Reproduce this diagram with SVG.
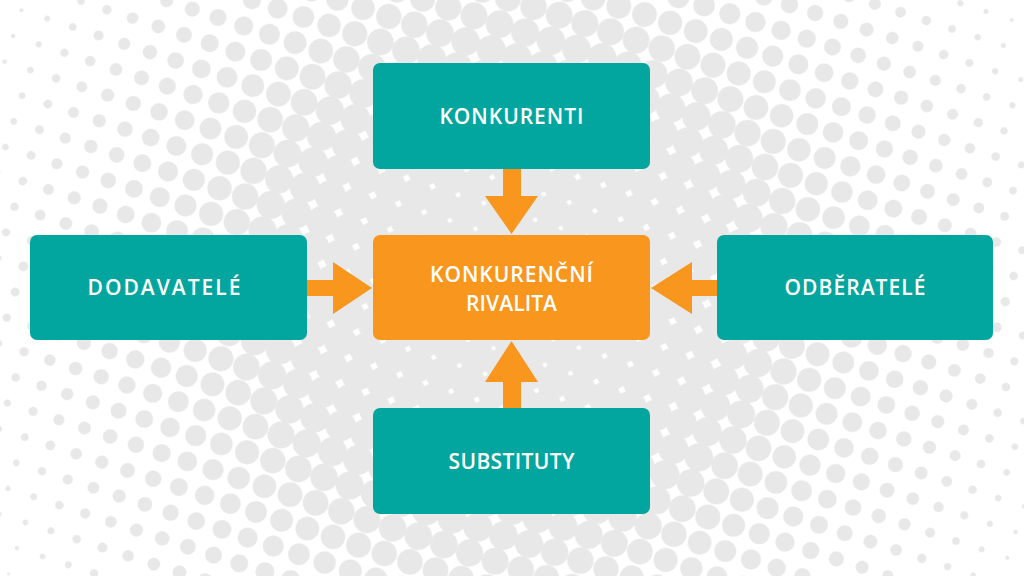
<svg xmlns="http://www.w3.org/2000/svg" width="1024" height="576" viewBox="0 0 1024 576">
<style>
.box{fill:#03a69e}
.center{fill:#f8961d}
.arrow{fill:#f8961d}
.lbl{font-family:"Open Sans","Noto Sans","Liberation Sans",sans-serif;font-weight:600;font-size:21px;fill:#ffffff;text-anchor:middle}
</style>
<defs>
<radialGradient id="cellG" cx="0.5" cy="0.5" r="0.7071">
<stop offset="0" stop-color="#000000"/>
<stop offset="1" stop-color="#ffffff"/>
</radialGradient>
<pattern id="dots" width="27" height="27" patternUnits="userSpaceOnUse" patternTransform="rotate(18 512 288)">
<rect width="27" height="27" fill="url(#cellG)"/>
</pattern>
<radialGradient id="glob" gradientUnits="userSpaceOnUse" cx="512" cy="288" r="620">
<stop offset="0" stop-color="#161616"/>
<stop offset="0.16" stop-color="#1c1c1c"/>
<stop offset="0.34" stop-color="#303030"/>
<stop offset="0.465" stop-color="#525252"/>
<stop offset="0.826" stop-color="#cccccc"/>
<stop offset="1" stop-color="#ffffff"/>
</radialGradient>
<filter id="ht" filterUnits="userSpaceOnUse" x="0" y="0" width="1024" height="576" color-interpolation-filters="sRGB">
<feComponentTransfer>
<feFuncR type="linear" slope="30" intercept="-14.5"/>
<feFuncG type="linear" slope="30" intercept="-14.5"/>
<feFuncB type="linear" slope="30" intercept="-14.5"/>
</feComponentTransfer>
<feComponentTransfer>
<feFuncR type="linear" slope="0.09" intercept="0.91"/>
<feFuncG type="linear" slope="0.09" intercept="0.91"/>
<feFuncB type="linear" slope="0.09" intercept="0.91"/>
</feComponentTransfer>
</filter>
</defs>
<g id="background" filter="url(#ht)">
<rect x="0" y="0" width="1024" height="576" fill="url(#dots)"/>
<rect x="0" y="0" width="1024" height="576" fill="url(#glob)" opacity="0.5"/>
</g>
<g id="connectors">
<polygon class="arrow" points="503,169 521,169 521,196 538,196 511.5,234 485,196 503,196"/>
<polygon class="arrow" points="511.5,341 538,382 521,382 521,408 503,408 503,382 485,382"/>
<polygon class="arrow" points="306,280 333,280 333,262 372,288 333,314 333,296 306,296"/>
<polygon class="arrow" points="717,280 692,280 692,262 651,288 692,314 692,296 717,296"/>
</g>
<g id="konkurenti">
<rect class="box" x="373" y="63" width="277" height="106" rx="7"/>
<text class="lbl" x="511.5" y="124" textLength="144" lengthAdjust="spacing">KONKURENTI</text>
</g>
<g id="rivalita">
<rect class="center" x="373" y="235" width="277" height="105" rx="7"/>
<text class="lbl" x="511.5" y="282" textLength="163" lengthAdjust="spacing">KONKURENČNÍ</text>
<text class="lbl" x="511.5" y="311" textLength="91" lengthAdjust="spacing">RIVALITA</text>
</g>
<g id="dodavatele">
<rect class="box" x="30" y="235" width="277" height="105" rx="7"/>
<text class="lbl" x="164" y="295" textLength="153" lengthAdjust="spacing">DODAVATELÉ</text>
</g>
<g id="odberatele">
<rect class="box" x="717" y="235" width="276" height="105" rx="7"/>
<text class="lbl" x="855" y="295" textLength="141" lengthAdjust="spacing">ODBĚRATELÉ</text>
</g>
<g id="substituty">
<rect class="box" x="373" y="408" width="277" height="106" rx="7"/>
<text class="lbl" x="511.5" y="469" textLength="126" lengthAdjust="spacing">SUBSTITUTY</text>
</g>
</svg>
